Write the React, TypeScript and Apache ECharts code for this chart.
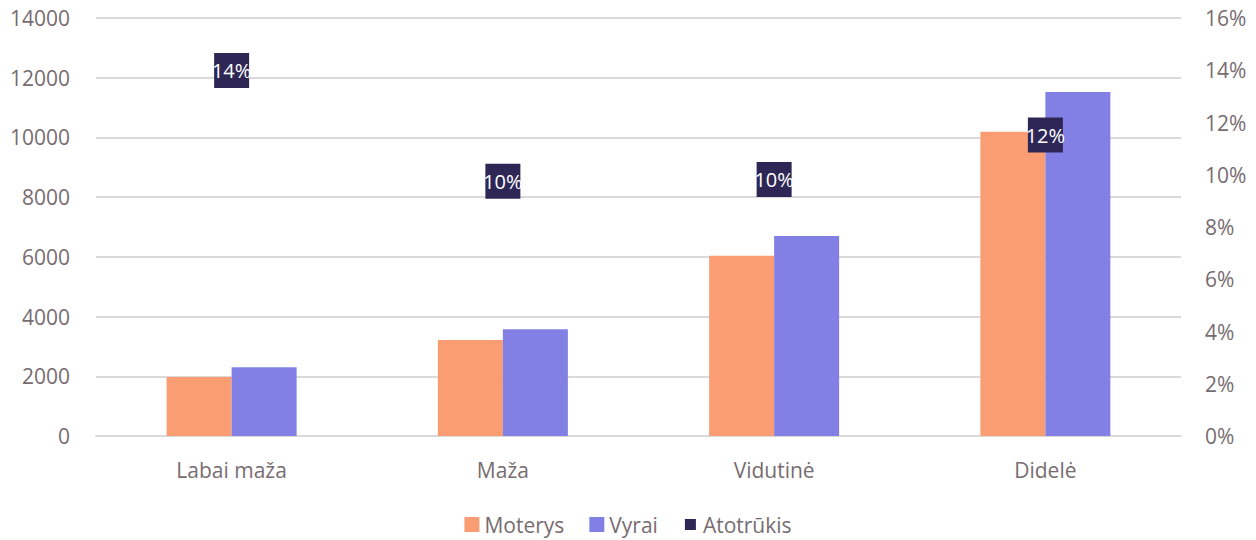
import React, { useEffect, useRef } from "react";
import * as echarts from "echarts";

const categories = ["Labai maža", "Maža", "Vidutinė", "Didelė"];
const moterys = [1976, 3215, 6040, 10193];
const vyrai = [2300, 3573, 6699, 11522];
const atotrukis = [13.99, 9.75, 9.82, 11.52];
const leftTicks = { min: 0, max: 14000, interval: 2000 };
const rightTicks = { min: 0, max: 16, interval: 2 };

const FONT = "'Open Sans', sans-serif";
const TEXT = "#776c70";
const GRID = "#dcd9da";

export default function App() {
  const ref = useRef<HTMLDivElement>(null);
  useEffect(() => {
    document.body.style.margin = "0";
    const chart = echarts.init(ref.current!, null, { renderer: "svg" });
    chart.setOption({
      animation: false,
      textStyle: { fontFamily: FONT },
      grid: { left: 96, right: 75, top: 18, bottom: 104 },
      legend: {
        bottom: 0,
        left: "center",
        itemWidth: 15,
        itemHeight: 15,
        itemGap: 25,
        textStyle: { color: TEXT, fontSize: 21, fontFamily: FONT },
        data: [
          { name: "Moterys", icon: "rect" },
          { name: "Vyrai", icon: "rect" },
          { name: "Atotrūkis", icon: "path://M0,0L0,0M15,15L15,15M2,2H13V13H2Z" },
        ],
      },
      xAxis: {
        type: "category",
        data: categories,
        axisTick: { show: false },
        axisLine: { lineStyle: { color: GRID, width: 2 } },
        axisLabel: { color: TEXT, fontSize: 21, margin: 23, fontFamily: FONT },
      },
      yAxis: [
        {
          type: "value",
          ...leftTicks,
          axisLabel: { color: TEXT, fontSize: 21, margin: 26, fontFamily: FONT, formatter: (v: number) => String(v) },
          splitLine: { lineStyle: { color: GRID, width: 2 } },
          axisLine: { show: false },
          axisTick: { show: false },
        },
        {
          type: "value",
          ...rightTicks,
          position: "right",
          axisLabel: { color: TEXT, fontSize: 21, margin: 24, fontFamily: FONT, formatter: "{value}%" },
          splitLine: { show: false },
          axisLine: { show: false },
          axisTick: { show: false },
        },
      ],
      series: [
        {
          name: "Moterys",
          type: "bar",
          data: moterys,
          barWidth: 65,
          barGap: "0%",
          itemStyle: { color: "#fa9d73" },
        },
        {
          name: "Vyrai",
          type: "bar",
          data: vyrai,
          barWidth: 65,
          barGap: "0%",
          itemStyle: { color: "#8280e5" },
        },
        {
          name: "Atotrūkis",
          type: "scatter",
          yAxisIndex: 1,
          data: atotrukis,
          symbol: "rect",
          symbolSize: 35,
          itemStyle: { color: "#2e2756", opacity: 1 },
          z: 5,
          label: {
            show: true,
            position: "inside",
            color: "#ffffff",
            fontSize: 20,
            fontFamily: FONT,
            formatter: (p: any) => Math.round(p.value) + "%",
          },
        },
      ],
    });
    return () => chart.dispose();
  }, []);
  return <div ref={ref} style={{ width: 1256, height: 540 }} />;
}
